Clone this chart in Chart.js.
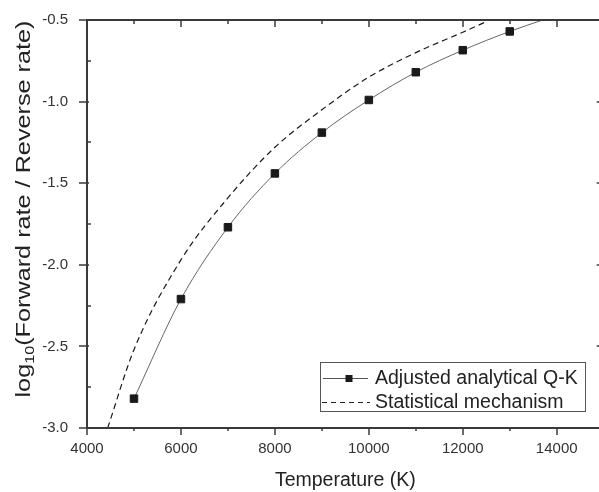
<!DOCTYPE html>
<html>
<head>
<meta charset="utf-8">
<title>Forward / reverse rate ratio</title>
<script src="https://cdn.jsdelivr.net/npm/chart.js@4.4.1/dist/chart.umd.min.js"></script>
<style>
  html, body { margin: 0; padding: 0; background: #fff; overflow: hidden; }
  #wrap { width: 599px; height: 492px; overflow: hidden; }
</style>
</head>
<body>
<div id="wrap"><canvas id="rateChart" width="610" height="492"></canvas></div>
<script>
// Adjusted analytical Q-K (markers), last point is where the fitted curve leaves the frame
const adjTemps = [5000, 6000, 7000, 8000, 9000, 10000, 11000, 12000, 13000, 13700];
const adjValues = [-2.82, -2.21, -1.77, -1.44, -1.19, -0.99, -0.82, -0.685, -0.57, -0.5];
const adjMarker = [true, true, true, true, true, true, true, true, true, false];

// Statistical mechanism curve
const statTemps = [4440, 5000, 6000, 7000, 8000, 9000, 10000, 11000, 12000, 12500];
const statValues = [-3.0, -2.52, -1.97, -1.59, -1.28, -1.05, -0.85, -0.70, -0.575, -0.51];

const xTicks = [4000, 6000, 8000, 10000, 12000, 14000];
const xMinorTicks = [5000, 7000, 9000, 11000, 13000];
const yTicks = [-3.0, -2.5, -2.0, -1.5, -1.0, -0.5];
const yMinorTicks = [-2.75, -2.25, -1.75, -1.25, -0.75];

const seriesNames = ["Adjusted analytical Q-K", "Statistical mechanism"];
const xTitle = "Temperature (K)";

const FONT = '"Liberation Sans", Arial, sans-serif';

const toPoints = (xs, ys) => xs.map((t, i) => ({ x: t, y: ys[i] }));

// box around the plot with Origin-style tick marks
const frame = {
  id: "frame",
  afterDatasetsDraw(chart) {
    const { ctx, chartArea: a, scales } = chart;
    const x = scales.x, y = scales.y;
    ctx.save();
    ctx.strokeStyle = "#3a3a3a";
    ctx.lineWidth = 2;
    ctx.strokeRect(a.left, a.top, a.right - a.left, a.bottom - a.top);

    ctx.lineWidth = 1.5;
    const line = (x1, y1, x2, y2) => {
      ctx.beginPath();
      ctx.moveTo(x1, y1);
      ctx.lineTo(x2, y2);
      ctx.stroke();
    };
    xTicks.forEach((v) => {
      const px = Math.round(x.getPixelForValue(v));
      line(px, a.bottom, px, a.bottom + 7);
      line(px, a.top, px, a.top + 7);
    });
    xMinorTicks.forEach((v) => {
      const px = Math.round(x.getPixelForValue(v));
      line(px, a.bottom, px, a.bottom + 3);
      line(px, a.top, px, a.top + 4);
    });
    yTicks.forEach((v) => {
      const py = Math.round(y.getPixelForValue(v));
      line(a.left - 8, py, a.left + 2, py);
      line(a.right - 7, py, a.right, py);
    });
    yMinorTicks.forEach((v) => {
      const py = Math.round(y.getPixelForValue(v));
      line(a.left, py, a.left + 4, py);
      line(a.right - 4, py, a.right, py);
    });
    ctx.restore();
  },
};

// axis titles and the boxed legend
const labels = {
  id: "labels",
  afterDraw(chart) {
    const { ctx, chartArea: a } = chart;
    ctx.save();
    ctx.fillStyle = "#222";

    // x title
    ctx.font = "19.5px " + FONT;
    ctx.textAlign = "center";
    ctx.textBaseline = "alphabetic";
    ctx.fillText(xTitle, (a.left + a.right) / 2, 486);

    // y title with subscript 10
    const mainFont = "19.5px " + FONT;
    const subFont = "12.5px " + FONT;
    ctx.font = mainFont;
    const w1 = ctx.measureText("log").width;
    const w3 = ctx.measureText("(Forward rate / Reverse rate)").width;
    ctx.font = subFont;
    const w2 = ctx.measureText("10").width;
    const total = w1 + w2 + w3;
    ctx.translate(30, 209);
    ctx.rotate(-Math.PI / 2);
    ctx.scale(377 / total, 1);
    ctx.textAlign = "left";
    let sx = -total / 2;
    ctx.font = mainFont;
    ctx.fillText("log", sx, 0);
    ctx.font = subFont;
    ctx.fillText("10", sx + w1, 4);
    ctx.font = mainFont;
    ctx.fillText("(Forward rate / Reverse rate)", sx + w1 + w2, 0);
    ctx.restore();

    // legend
    ctx.save();
    ctx.fillStyle = "#fff";
    ctx.fillRect(321, 362, 265, 49);
    ctx.strokeStyle = "#555";
    ctx.lineWidth = 1;
    ctx.strokeRect(320.5, 362.5, 265, 49);

    ctx.strokeStyle = "#555";
    ctx.beginPath();
    ctx.moveTo(323, 378.5);
    ctx.lineTo(368, 378.5);
    ctx.stroke();
    ctx.fillStyle = "#1a1a1a";
    ctx.fillRect(345.5, 375, 7, 7);

    ctx.strokeStyle = "#222";
    ctx.setLineDash([5, 4]);
    ctx.beginPath();
    ctx.moveTo(322, 402.5);
    ctx.lineTo(370, 402.5);
    ctx.stroke();
    ctx.setLineDash([]);

    ctx.fillStyle = "#222";
    ctx.font = "19.5px " + FONT;
    ctx.textAlign = "left";
    ctx.fillText(seriesNames[0], 375, 383.5);
    ctx.fillText(seriesNames[1], 375, 408);
    ctx.restore();
  },
};

const tickFont = { family: FONT, size: 15 };

new Chart(document.getElementById("rateChart"), {
  type: "line",
  data: {
    datasets: [
      {
        label: seriesNames[0],
        data: toPoints(adjTemps, adjValues),
        borderColor: "#666",
        borderWidth: 1,
        cubicInterpolationMode: "monotone",
        pointStyle: "rect",
        pointRadius: adjMarker.map((m) => (m ? 5.3 : 0)),
        pointBackgroundColor: "#1a1a1a",
        pointBorderColor: "#1a1a1a",
        pointBorderWidth: 1,
      },
      {
        label: seriesNames[1],
        data: toPoints(statTemps, statValues),
        borderColor: "#1a1a1a",
        borderWidth: 1.2,
        borderDash: [6, 4],
        cubicInterpolationMode: "monotone",
        pointRadius: 0,
      },
    ],
  },
  options: {
    responsive: false,
    animation: false,
    layout: { padding: { top: 13, right: 6 } },
    plugins: { legend: { display: false }, tooltip: { enabled: false } },
    scales: {
      x: {
        type: "linear",
        min: 4000,
        max: 15000,
        grid: { display: false },
        border: { display: false },
        afterBuildTicks: (s) => { s.ticks = xTicks.map((v) => ({ value: v })); },
        afterFit: (s) => { s.height = 64; },
        ticks: { font: tickFont, color: "#333", padding: 4, callback: (v) => String(v) },
      },
      y: {
        type: "linear",
        min: -3,
        max: -0.5,
        grid: { display: false },
        border: { display: false },
        afterBuildTicks: (s) => { s.ticks = yTicks.map((v) => ({ value: v })); },
        afterFit: (s) => { s.width = 87; },
        ticks: { font: tickFont, color: "#333", padding: 11, callback: (v) => v.toFixed(1) },
      },
    },
  },
  plugins: [frame, labels],
});
</script>
</body>
</html>
